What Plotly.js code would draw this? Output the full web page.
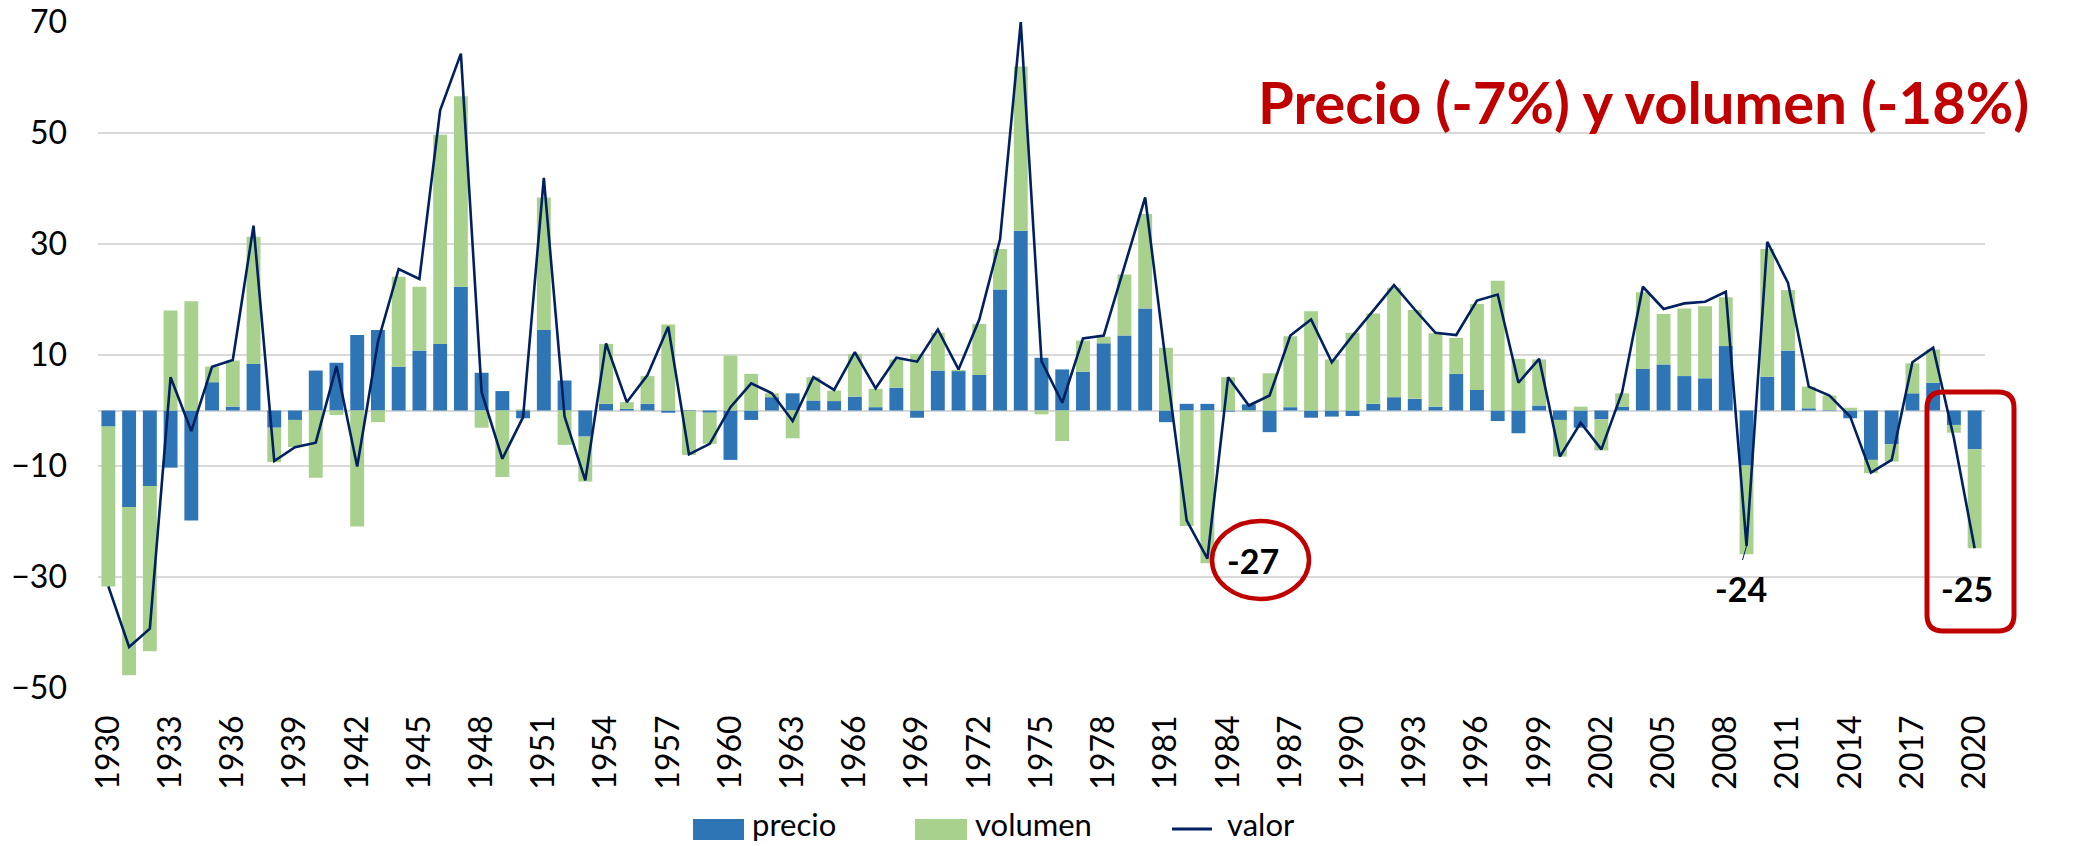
<!DOCTYPE html>
<html>
<head>
<meta charset="utf-8">
<script src="https://cdn.plot.ly/plotly-3.0.1.min.js"></script>
<style>
html,body{margin:0;padding:0;background:#fff;}
#chart{width:2075px;height:846px;}
</style>
</head>
<body>
<div id="chart"></div>
<script>
// ---- DATA ----
const years = [1930,1931,1932,1933,1934,1935,1936,1937,1938,1939,
  1940,1941,1942,1943,1944,1945,1946,1947,1948,1949,
  1950,1951,1952,1953,1954,1955,1956,1957,1958,1959,
  1960,1961,1962,1963,1964,1965,1966,1967,1968,1969,
  1970,1971,1972,1973,1974,1975,1976,1977,1978,1979,
  1980,1981,1982,1983,1984,1985,1986,1987,1988,1989,
  1990,1991,1992,1993,1994,1995,1996,1997,1998,1999,
  2000,2001,2002,2003,2004,2005,2006,2007,2008,2009,
  2010,2011,2012,2013,2014,2015,2016,2017,2018,2019,
  2020];

const precio = [-2.9,-17.4,-13.6,-10.3,-19.8,5.1,0.7,8.4,-3.1,-1.7,
  7.2,8.6,13.6,14.5,7.9,10.8,12.0,22.3,6.8,3.5,
  -1.4,14.5,5.4,-4.7,1.2,0.3,1.2,-0.4,-0.1,-0.4,
  -8.9,-1.7,2.4,3.1,1.8,1.7,2.5,0.6,4.1,-1.3,
  7.2,7.1,6.4,21.8,32.4,9.5,7.4,7.0,12.1,13.5,
  18.4,-2.1,1.2,1.2,-0.2,1.1,-3.9,0.6,-1.3,-1.1,
  -1.0,1.2,2.4,2.1,0.7,6.6,3.7,-1.9,-4.1,0.9,
  -1.7,-3.1,-1.6,0.7,7.5,8.3,6.2,5.8,11.6,-9.9,
  6.1,10.8,0.4,0.1,-1.4,-8.9,-6.1,3.1,5.0,-2.6,
  -7.0];

const volumen = [-28.8,-30.3,-29.8,18.0,19.7,2.8,8.3,22.9,-6.2,-4.9,
  -12.1,-0.8,-20.9,-2.1,16.2,11.5,37.7,34.3,-3.1,-12.0,
  0.2,23.9,-6.2,-8.1,10.8,1.2,5.0,15.5,-7.9,-5.6,
  9.9,6.6,0.7,-5.0,4.2,1.9,7.7,3.3,5.1,10.2,
  6.8,0.2,9.2,7.3,29.6,-0.7,-5.5,5.6,1.2,11.0,
  17.0,11.3,-20.8,-27.5,6.0,-0.2,6.7,12.8,17.9,9.2,
  14.0,16.3,19.7,16.0,13.2,6.5,15.5,23.4,9.3,8.3,
  -6.6,0.7,-5.6,2.4,13.8,9.1,12.2,13.0,8.8,-16.0,
  23.0,10.9,3.9,2.6,0.5,-2.4,-3.1,5.4,6.0,-1.4,
  -17.8];

const valor = [-31.7,-42.6,-39.3,6.0,-3.7,7.9,9.1,33.3,-9.1,-6.6,
  -5.8,8.0,-10.1,12.4,25.5,23.7,54.1,64.3,3.3,-8.7,
  -1.2,41.9,-1.1,-12.6,12.1,1.5,6.4,15.1,-7.9,-6.0,
  0.6,4.9,3.1,-1.9,6.0,3.7,10.5,4.0,9.5,8.8,
  14.6,7.4,16.4,30.8,70.0,8.9,1.4,13.0,13.5,26.0,
  38.4,8.5,-19.8,-26.7,6.0,0.9,2.7,13.5,16.4,8.7,
  13.5,18.0,22.6,18.2,14.0,13.6,19.8,20.9,5.0,9.3,
  -8.3,-2.2,-7.0,3.3,22.3,18.3,19.3,19.6,21.4,-24.4,
  30.4,23.0,4.3,2.7,-1.1,-11.2,-8.9,8.7,11.3,-5.0,
  -24.8];

const tickYears = [1930,1933,1936,1939,1942,1945,1948,1951,1954,1957,1960,1963,1966,
  1969,1972,1975,1978,1981,1984,1987,1990,1993,1996,1999,2002,2005,2008,2011,2014,2017,2020];
const tickText = ["1930","1933","1936","1939","1942","1945","1948","1951","1954","1957","1960","1963","1966",
  "1969","1972","1975","1978","1981","1984","1987","1990","1993","1996","1999","2002","2005","2008","2011","2014","2017","2020"];
const yTicks = [-50,-30,-10,10,30,50,70];

const seriesNames = ["precio","volumen","valor"];
const headline = "Precio (-7%) y volumen (-18%)";
const callouts = [
  {year:1985.2, value:-27, text:"-27"},
  {year:2008.75, value:-32.1, text:"-24"},
  {year:2019.65, value:-32.1, text:"-25"}
];

// ---- STYLE / LAYOUT ----
const BLUE = "#2E75B6", GREEN = "#A9D18E", NAVY = "#002060", RED = "#C00000";
const FONT = "Lato, 'Open Sans', sans-serif";
const PL = 98, PR = 1985, PT = 22, PB = 688;
const px = x => (x - PL) / (PR - PL);
const py = y => (PB - y) / (PB - PT);

const traces = [
  {type:"bar", x:years, y:precio, name:seriesNames[0], marker:{color:BLUE, line:{width:0}}, showlegend:false, hoverinfo:"x+y"},
  {type:"bar", x:years, y:volumen, name:seriesNames[1], marker:{color:GREEN, line:{width:0}}, showlegend:false, hoverinfo:"x+y"},
  {type:"scatter", mode:"lines", x:years, y:valor, name:seriesNames[2], line:{color:NAVY, width:2.6}, showlegend:false}
];

// rounded rectangle path in paper coords
function roundRect(x0, y0, x1, y1, r) {
  const rx = r / (PR - PL), ry = r / (PB - PT);
  const X0 = px(x0), X1 = px(x1), Yt = py(y0), Yb = py(y1);
  return `M${X0+rx},${Yt} L${X1-rx},${Yt} Q${X1},${Yt} ${X1},${Yt-ry} L${X1},${Yb+ry} Q${X1},${Yb} ${X1-rx},${Yb} ` +
         `L${X0+rx},${Yb} Q${X0},${Yb} ${X0},${Yb+ry} L${X0},${Yt-ry} Q${X0},${Yt} ${X0+rx},${Yt} Z`;
}

const shapes = [
  // ellipse around -27
  {type:"circle", xref:"paper", yref:"paper", x0:px(1212), x1:px(1309), y0:py(599), y1:py(521),
   line:{color:RED, width:4.5}},
  // rounded rectangle around -25
  {type:"path", xref:"paper", yref:"paper", path:roundRect(1927, 392, 2014, 631, 16),
   line:{color:RED, width:5}},
  // leader line for -24
  {type:"line", xref:"paper", yref:"paper", x0:px(1746.5), y0:py(546), x1:px(1742.5), y1:py(560),
   line:{color:NAVY, width:1}},
  // legend swatches
  {type:"rect", xref:"paper", yref:"paper", x0:px(693), x1:px(744), y0:py(840), y1:py(819), fillcolor:BLUE, line:{width:0}},
  {type:"rect", xref:"paper", yref:"paper", x0:px(915), x1:px(967), y0:py(840), y1:py(819), fillcolor:GREEN, line:{width:0}},
  {type:"line", xref:"paper", yref:"paper", x0:px(1172), x1:px(1212), y0:py(829), y1:py(829), line:{color:NAVY, width:3}}
];

const legendFont = {family:FONT, size:31, color:"#000"};
const annotations = [
  {xref:"paper", yref:"paper", x:px(1643), y:py(101), text:"<b>"+headline+"</b>", showarrow:false,
   xanchor:"center", yanchor:"middle", font:{family:FONT, size:58, color:RED}},
  ...callouts.map(c => ({xref:"x", yref:"y", x:c.year, y:c.value, text:"<b>"+c.text+"</b>", showarrow:false,
    xanchor:"center", yanchor:"middle", font:{family:FONT, size:34, color:"#000"}})),
  {xref:"paper", yref:"paper", x:px(750), y:py(824), text:seriesNames[0], showarrow:false, xanchor:"left", yanchor:"middle", font:legendFont},
  {xref:"paper", yref:"paper", x:px(973), y:py(824), text:seriesNames[1], showarrow:false, xanchor:"left", yanchor:"middle", font:legendFont},
  {xref:"paper", yref:"paper", x:px(1225), y:py(824), text:seriesNames[2], showarrow:false, xanchor:"left", yanchor:"middle", font:legendFont}
];

const layout = {
  width:2075, height:846,
  margin:{l:PL, r:2075-PR, t:PT, b:846-PB, pad:0},
  paper_bgcolor:"#fff", plot_bgcolor:"#fff",
  barmode:"relative", bargap:0.33,
  font:{family:FONT, size:32, color:"#000"},
  showlegend:false,
  xaxis:{range:[1929.5,2020.5], tickmode:"array", tickvals:tickYears, ticktext:tickText, tickangle:-90,
         showgrid:false, zeroline:false, showline:false, ticks:"", ticklabelstandoff:20,
         tickfont:{family:FONT, size:32, color:"#000"}, fixedrange:true},
  yaxis:{range:[-50,70], tickmode:"array", tickvals:yTicks, showgrid:true, gridcolor:"#D9D9D9", gridwidth:1.5,
         zeroline:true, zerolinecolor:"#D9D9D9", zerolinewidth:2, showline:false, ticks:"", ticklabelstandoff:30,
         tickfont:{family:FONT, size:32, color:"#000"}, fixedrange:true},
  shapes:shapes,
  annotations:annotations
};

Plotly.newPlot("chart", traces, layout, {displayModeBar:false, staticPlot:true});
</script>
</body>
</html>
